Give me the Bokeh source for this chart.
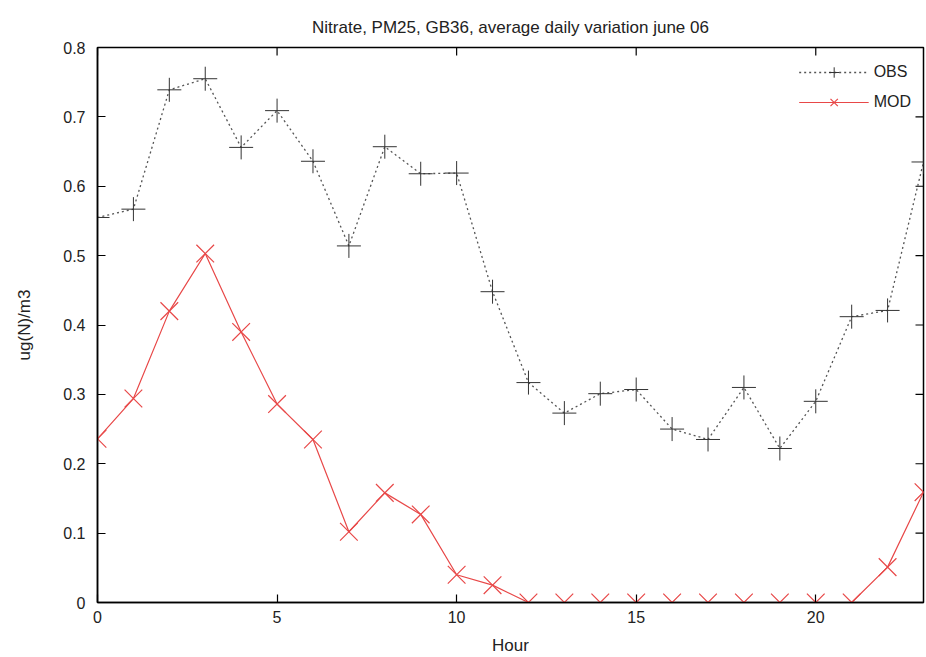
from bokeh.plotting import figure
from bokeh.models import FixedTicker, Legend, LegendItem
from bokeh.embed import file_html
from bokeh.resources import INLINE

hours = list(range(24))
obs = [0.555, 0.567, 0.739, 0.755, 0.656, 0.709, 0.636, 0.514, 0.657, 0.618, 0.619, 0.448,
       0.317, 0.273, 0.301, 0.307, 0.250, 0.235, 0.310, 0.222, 0.290, 0.412, 0.421, 0.635]
mod = [0.236, 0.294, 0.420, 0.503, 0.390, 0.286, 0.235, 0.102, 0.158, 0.127, 0.040, 0.025,
       0.0, 0.0, 0.0, 0.0, 0.0, 0.0, 0.0, 0.0, 0.0, 0.0, 0.051, 0.159]
x_ticks = [0, 5, 10, 15, 20]
y_ticks = [0, 0.1, 0.2, 0.3, 0.4, 0.5, 0.6, 0.7, 0.8]

FONT = "Liberation Sans"
X0, X1, Y0, Y1 = 0, 23, 0, 0.8
W, H = 926, 657
ML, MR, MT, MB = 97, 3, 47, 54
TICK_PX = 8

p = figure(width=W, height=H, x_range=(X0, X1), y_range=(Y0, Y1),
           output_backend="svg", toolbar_location=None,
           min_border_left=ML, min_border_right=MR, min_border_top=MT, min_border_bottom=MB,
           title="Nitrate, PM25, GB36, average daily variation june 06")
p.title.align = "center"
p.title.vertical_align = "top"
p.title.text_font = FONT
p.title.text_font_size = "17px"
p.title.text_font_style = "normal"
p.title.text_color = "#222222"
p.title.standoff = 18

p.grid.visible = False
p.outline_line_color = "black"
p.outline_line_width = 1.5
p.background_fill_color = "white"
p.border_fill_color = "white"

p.xaxis.ticker = FixedTicker(ticks=x_ticks)
p.yaxis.ticker = FixedTicker(ticks=y_ticks)
p.yaxis.formatter.use_scientific = False

for ax in (p.xaxis[0], p.yaxis[0]):
    ax.major_tick_in = TICK_PX
    ax.major_tick_out = 0
    ax.minor_tick_line_color = None
    ax.major_label_text_font = FONT
    ax.major_label_text_font_size = "16px"
    ax.major_label_text_color = "#222222"
    ax.axis_label_text_font = FONT
    ax.axis_label_text_font_size = "17px"
    ax.axis_label_text_font_style = "normal"
    ax.axis_label_text_color = "#222222"
    ax.axis_line_width = 1.5
    ax.major_tick_line_width = 1.2

p.xaxis.axis_label = "Hour"
p.xaxis.major_label_standoff = 8
p.xaxis.axis_label_standoff = 10
p.yaxis.axis_label = "ug(N)/m3"
p.yaxis.major_label_standoff = 12
p.yaxis.axis_label_standoff = 26

# mirrored inward ticks on the top and right frame edges
frame_w = W - ML - MR
frame_h = H - MT - MB
dy = TICK_PX * (Y1 - Y0) / frame_h
dx = TICK_PX * (X1 - X0) / frame_w
p.segment(x0=x_ticks, x1=x_ticks, y0=[Y1] * len(x_ticks), y1=[Y1 - dy] * len(x_ticks),
          line_color="black", line_width=1.2)
p.segment(x0=[X1] * len(y_ticks), x1=[X1 - dx] * len(y_ticks), y0=y_ticks, y1=y_ticks,
          line_color="black", line_width=1.2)

obs_line = p.line(hours, obs, line_color="#555555", line_width=1.3, line_dash="2 3")
obs_pts = p.scatter(hours, obs, marker="cross", size=24, line_color="#333333", line_width=1)
mod_line = p.line(hours, mod, line_color="#e84848", line_width=1.2)
mod_pts = p.scatter(hours, mod, marker="x", size=25, line_color="#e84848", line_width=1.2)

legend = Legend(items=[LegendItem(label="OBS", renderers=[obs_line, obs_pts]),
                       LegendItem(label="MOD", renderers=[mod_line, mod_pts])],
                location="top_right", background_fill_alpha=0, border_line_color=None,
                label_text_font=FONT, label_text_font_size="16px", glyph_width=70,
                glyph_height=26, spacing=4, padding=0, margin=12,
                label_text_color="#222222")
p.add_layout(legend)

open("out.html", "w").write(file_html(p, INLINE))
